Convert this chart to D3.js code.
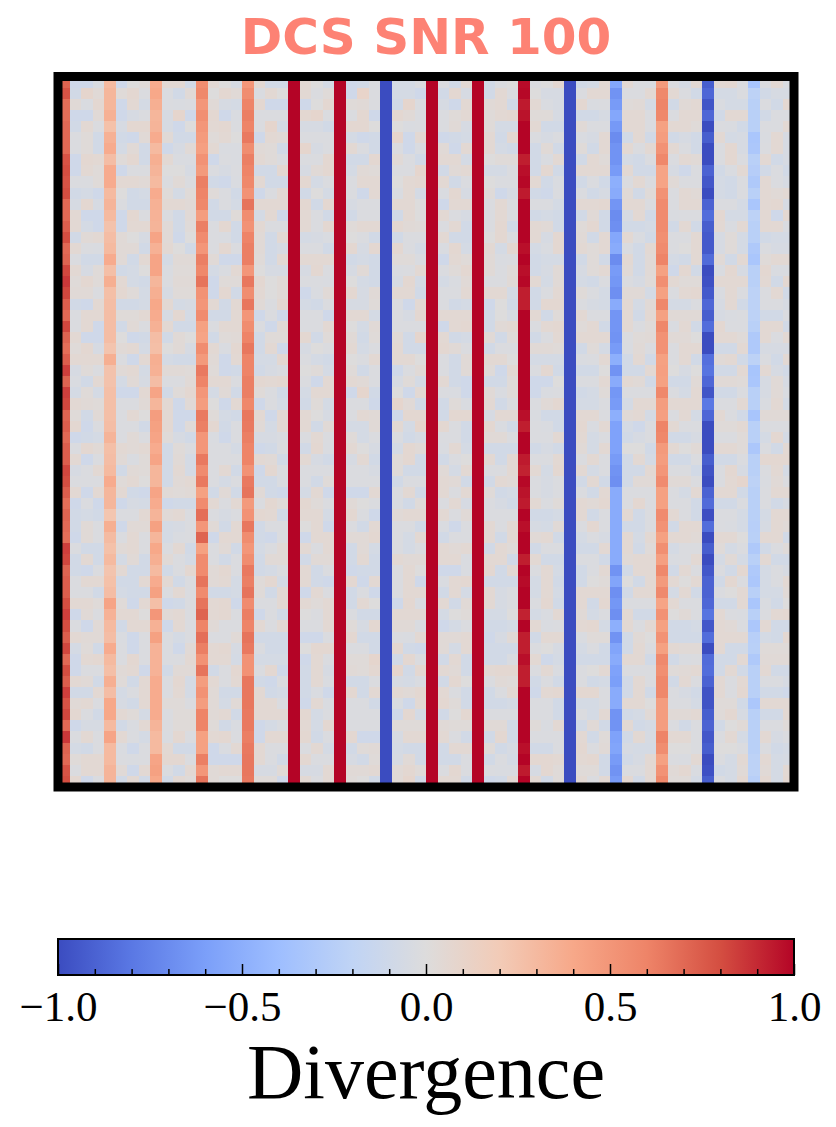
<!DOCTYPE html>
<html>
<head>
<meta charset="utf-8">
<script src="https://cdn.jsdelivr.net/npm/d3@7"></script>
<style>
    html, body { margin: 0; background: white; }
    svg { display: block; }
</style>
</head>
<body>
<div id="chart"></div>
<script>
const title = "DCS SNR 100"
const colorbarLabel = "Divergence"
const majorTicks = [-1, -0.5, 0, 0.5, 1]
const minorTicks = [-0.9, -0.8, -0.7, -0.6, -0.4, -0.3, -0.2, -0.1, 0.1, 0.2, 0.3, 0.4, 0.6, 0.7, 0.8, 0.9]

// coolwarm, sampled at 11 points
const coolwarm = ["#3b4cc0", "#5a78e4", "#7b9ff9", "#9ebeff", "#c0d4f5", "#dddcdc", "#f2cbb7", "#f7a889", "#ee8468", "#d44e41", "#b40426"]

// divergence per cell in hundredths
const divergence = [
[72,-10,-10,-3,30,-10,0,2,38,5,5,-8,55,5,0,-5,50,5,-8,-8,100,5,0,-6,100,-10,-8,-2,-100,-6,-6,-2,100,-2,-8,5,100,-8,-2,0,98,-2,0,6,-100,-8,-6,5,-55,5,-2,-3,48,-2,-6,5,-92,5,6,-2,-35,-2,5,-3],
[78,-8,8,3,32,2,6,-2,40,-2,-8,3,58,0,6,3,55,-3,5,0,100,5,-2,2,100,-10,10,-2,-100,-6,-6,-10,100,-8,6,-5,100,-8,5,-2,99,0,-5,-5,-100,-2,5,5,-66,-2,-2,5,58,5,-2,-8,-88,-6,-6,-2,-22,-8,-5,-5],
[68,3,-3,6,32,-10,5,-6,36,-2,-3,-2,50,3,-5,-6,60,6,-10,-10,100,-10,0,6,100,2,3,-2,-100,-8,8,-2,100,-5,-10,5,100,3,5,-8,94,5,-3,-5,-100,6,-3,-2,-62,2,3,-6,60,-8,3,5,-96,-3,-6,-6,-24,-2,-8,6],
[68,-10,-10,3,35,-10,-5,-2,32,-5,8,-10,54,6,-10,-3,62,-2,-2,-2,100,6,8,-2,100,-2,6,-10,-100,6,3,-2,100,-2,2,5,100,2,5,6,96,2,2,-5,-100,-8,-8,-5,-55,5,5,-2,58,-2,5,5,-88,-8,5,5,-24,-8,-2,-2],
[70,-8,5,-2,26,-5,6,6,33,-5,-10,0,50,5,6,-2,60,-2,8,-6,100,-5,-5,-8,100,6,6,0,-100,0,-3,-2,100,-2,3,-5,100,2,-6,-6,100,5,-8,-8,-100,3,-2,-2,-63,5,5,-2,44,5,5,2,-100,-2,-3,-8,-24,-2,-2,5],
[70,-2,2,-8,35,-8,-10,3,38,3,-8,-8,47,2,5,0,64,-10,5,3,100,-2,-2,-2,100,-6,-10,-8,-100,8,-10,5,100,-10,-8,-6,100,5,-8,6,100,-2,-5,-2,-100,-3,-5,5,-70,-8,5,-8,46,-8,-5,-8,-92,5,-6,-5,-33,-3,5,-5],
[70,-2,2,-8,38,-6,3,-8,30,-10,-5,3,45,5,-3,-3,55,3,2,-8,100,8,-5,-2,100,5,-2,-8,-100,-2,-10,-3,100,3,-10,5,100,5,-6,-8,100,-8,3,-8,-100,2,-8,5,-66,5,-2,5,52,5,-2,-8,-100,-2,6,-5,-32,-2,5,-5],
[78,-10,6,5,28,2,6,-8,36,5,-3,-3,52,-10,-2,-3,62,5,2,-2,100,-2,-2,6,100,-8,-8,6,-100,3,-2,-8,100,5,5,-6,100,0,2,2,93,-8,-3,5,-100,-8,5,2,-66,-6,-8,-2,58,-2,5,3,-100,-2,6,-2,-24,5,-8,-5],
[80,-10,5,2,38,-10,-2,-2,33,0,0,-5,48,-2,-5,-2,60,-8,-8,6,100,-5,3,6,100,-6,3,2,-100,-2,-2,8,100,-8,3,5,100,-6,-6,-2,97,-8,6,-8,-100,5,5,5,-62,5,-8,-8,42,-5,-10,-2,-90,-8,-3,5,-26,-8,-2,-8],
[78,-2,-2,2,38,5,5,3,30,-2,3,-2,62,-8,-10,-3,58,5,-8,-8,100,6,-6,-2,100,-2,5,5,-100,0,5,6,100,5,-8,-2,100,0,-2,-2,99,5,-8,-3,-100,-8,-2,-8,-50,-2,5,-2,42,3,-2,-2,-95,-6,-8,-2,-30,5,-2,-5],
[80,-8,-6,-10,30,0,-8,-6,38,2,-6,2,60,2,-2,-8,52,-10,-2,5,100,-8,0,-6,100,-2,-10,5,-100,-3,5,-6,100,-3,6,-5,100,2,-10,-5,94,-8,-10,-2,-100,-2,-8,-5,-52,3,-8,2,52,-2,5,3,-100,-6,-8,-2,-24,5,3,5],
[70,-5,6,-5,33,-2,-8,-8,35,5,5,3,58,-8,-2,-6,66,5,5,5,100,6,-8,6,100,-5,-2,-2,-100,5,5,0,100,-10,5,5,100,-2,5,-2,100,-2,-2,-6,-100,5,5,6,-65,5,5,-2,56,-2,5,5,-90,-2,-2,-6,-33,5,6,-5],
[70,5,-10,-10,30,-10,6,-2,34,-2,-8,3,46,-8,-8,2,55,-6,5,-10,100,5,-2,-8,100,-8,-2,-2,-100,-8,5,0,100,5,-2,-5,100,-2,5,-2,100,-8,-6,-8,-100,-8,3,-8,-70,-5,5,-8,56,-3,-2,-2,-85,6,-6,-6,-22,5,-10,6],
[74,5,-6,-10,25,-10,5,5,33,3,-8,2,62,-2,6,-8,52,5,-2,-2,100,5,-2,6,100,2,5,5,-100,6,3,2,100,-2,5,-8,100,-2,6,-8,100,5,3,-8,-100,2,6,-8,-68,-8,-8,-6,56,-8,5,-8,-92,5,-3,5,-24,5,5,-3],
[80,-8,3,5,28,3,0,-5,42,3,-10,0,56,-2,-3,-8,60,3,-8,5,100,-6,-5,-3,100,0,-2,-8,-100,-8,-2,-2,100,5,-8,-8,100,0,6,-2,100,5,-5,6,-100,3,-8,5,-55,5,-3,-8,54,-2,-2,5,-94,-5,2,-6,-24,-8,-6,-6],
[70,5,-2,-3,30,3,3,-8,35,5,0,-8,50,-2,6,-2,62,3,-8,-5,100,-2,-2,-8,100,6,-5,6,-100,6,-2,-6,100,-3,6,-6,100,5,-6,6,97,-6,-3,6,-100,5,2,5,-52,-3,-8,5,56,-2,0,5,-94,-5,2,-6,-30,-2,-5,-5],
[72,-2,-8,-8,38,3,-8,5,42,-6,3,3,62,3,-10,-10,62,2,-8,5,100,5,5,5,100,-8,-6,-8,-100,2,2,-3,100,-10,5,2,100,3,-3,-2,100,-8,-6,-6,-100,-8,2,-8,-70,5,-8,3,60,-6,-8,5,-86,3,-8,5,-33,2,5,5],
[82,5,-5,2,27,-8,-6,0,42,-3,2,2,58,-6,-3,5,50,0,-5,-5,100,-5,6,-2,100,-5,3,-8,-100,-3,-2,5,100,-2,2,6,100,3,-2,2,97,-8,-5,3,-100,-5,2,5,-62,3,-8,3,44,-10,6,-8,-100,-3,6,-5,-24,6,-3,-3],
[86,2,6,2,36,5,-6,-8,32,-2,3,3,66,-10,2,2,65,6,0,3,100,-2,-2,-3,100,0,-6,-8,-100,-5,6,-6,100,-6,-3,3,100,-2,-2,3,99,5,-6,3,-100,-6,-8,-2,-64,-2,-5,2,54,5,2,2,-98,5,5,5,-24,5,-8,6],
[82,3,3,-2,27,6,2,-6,36,-5,2,2,52,-10,6,-8,55,5,0,3,100,-10,-3,3,100,6,-5,3,-100,5,5,-8,100,-2,-2,5,100,5,5,-6,93,-8,-2,5,-100,2,-2,-6,-68,3,3,-6,44,-2,5,6,-94,-3,5,-2,-22,-2,5,-8],
[74,-8,-10,5,28,-8,-8,-6,40,5,-6,-5,50,5,-8,5,65,3,-2,6,100,-6,-8,-2,100,-5,-5,2,-100,-2,-10,5,100,-2,-8,-6,100,-10,0,-8,93,-8,6,6,-100,-2,-5,-6,-52,5,-6,3,58,-6,-6,-2,-88,-5,5,-8,-22,-2,-2,-5],
[70,-2,5,5,28,2,2,5,38,-5,6,-6,56,-8,-8,5,50,-10,-2,-10,100,-2,-2,-10,100,5,5,-6,-100,-2,-5,6,100,5,5,5,100,-8,0,-5,100,5,-8,2,-100,5,-2,-2,-65,5,-8,5,44,3,3,3,-92,-5,-3,-2,-22,-8,-8,-2],
[82,-2,5,-10,28,-8,3,-2,35,5,-8,-8,44,-2,5,5,55,-2,-10,3,100,-2,-2,5,100,0,-6,3,-100,-2,-2,-2,100,-10,5,6,100,-8,3,5,100,-2,5,6,-100,2,5,-8,-65,5,-2,2,58,-3,5,-8,-85,6,-2,-2,-24,5,5,-8],
[72,5,-10,-10,28,0,-10,-8,28,-8,3,0,42,-8,2,3,60,-8,2,2,100,6,-8,2,100,3,-8,2,-100,3,-8,8,100,5,-8,-6,100,3,-8,2,100,-8,-2,5,-100,5,5,5,-66,-2,2,3,52,3,3,0,-100,5,5,2,-30,5,-2,5],
[68,2,6,-5,24,3,5,-6,27,0,3,-5,55,5,-3,6,65,-8,5,-10,100,-5,0,-2,100,5,-6,-2,-100,5,-8,-8,100,6,3,-2,100,-8,-2,-2,100,3,3,2,-100,-8,2,-6,-62,-3,3,-2,52,-2,5,5,-100,-8,-8,5,-30,-5,-5,-5],
[74,5,5,5,36,-2,-10,5,36,-6,-8,-8,48,3,-10,5,60,-6,-6,6,100,-2,-6,-8,100,0,-2,5,-100,5,5,0,100,-2,-8,3,100,5,5,0,100,-6,-6,-6,-100,-3,-2,5,-50,-8,5,-8,44,-2,5,-8,-84,3,5,-8,-22,-2,-8,5],
[84,-5,2,-2,25,3,5,-6,35,3,3,2,64,2,-10,-8,60,-8,-5,-3,100,0,2,-6,100,2,-8,-2,-100,-10,-2,3,100,-2,-8,3,100,2,-10,5,100,-2,6,-8,-100,-8,-8,0,-66,-8,-8,5,45,0,-5,0,-82,-8,-8,5,-34,5,-5,-8],
[72,-3,-8,5,25,-6,3,-5,28,-2,-2,3,60,5,5,-2,62,6,5,6,100,-2,-10,5,100,5,3,-2,-100,-5,2,-6,100,5,-8,-10,100,-8,-8,2,100,-10,-10,0,-100,-2,-2,5,-52,5,3,-8,44,-8,-8,3,-88,3,3,2,-33,-5,3,-5],
[84,-6,2,-6,27,-10,-10,5,42,-8,2,6,50,-6,3,-8,62,2,-2,-8,100,-6,5,5,100,-10,8,-8,-100,0,-10,5,100,-2,-3,-10,100,3,-3,2,100,-10,-3,-2,-100,-8,-6,2,-64,-2,-2,-2,58,-2,-6,5,-96,-8,-8,-2,-24,-5,3,-3],
[82,5,3,2,27,-2,-2,3,32,5,-10,3,46,0,-10,5,58,-10,-2,-6,100,-8,2,-6,100,-2,-2,-10,-100,8,3,-8,100,-8,2,-3,100,5,-8,-2,100,-2,3,6,-100,-6,-6,-2,-62,-6,5,5,46,5,5,5,-80,-2,-2,5,-24,-3,5,-6],
[72,2,-8,3,27,-2,5,0,46,5,-10,-10,64,2,-6,-8,65,5,-10,5,100,5,0,-5,100,-2,5,3,-100,-10,6,6,100,-8,6,6,100,-5,5,5,97,-3,-8,-8,-100,5,5,-2,-50,3,5,-6,45,-2,5,-6,-88,5,-2,-8,-34,3,3,3],
[74,6,-10,-2,28,-2,-2,-8,44,5,-10,2,62,6,-8,-2,64,3,-6,5,100,5,-8,3,100,-6,-6,3,-100,5,-6,8,100,6,-2,-8,100,6,-3,-8,93,-2,-3,-8,-100,6,-3,5,-58,-6,-10,-2,60,5,-2,-2,-100,2,2,5,-24,-2,-2,-2],
[70,-10,-8,-6,33,-2,3,-2,42,2,-5,-8,50,-3,-10,-2,62,-5,-5,-3,100,-2,5,-2,100,2,-6,-2,-100,-2,-8,-5,100,-2,-2,-8,100,3,3,-2,100,-2,-2,5,-100,5,-6,-2,-58,-8,-5,-2,58,-8,-8,-5,-100,-2,-2,2,-24,-6,6,-6],
[74,-2,6,3,27,5,3,5,38,-8,2,-2,50,-2,-2,-6,60,-10,-8,-2,100,-8,6,-3,100,5,0,-5,-100,-6,6,3,100,-3,5,-6,100,-8,-8,-8,100,-8,-5,-8,-100,3,-6,5,-58,0,0,-8,48,5,0,3,-100,5,5,2,-32,-2,-8,5],
[74,5,-10,-2,28,3,-3,2,42,-8,3,-6,64,-2,-2,-2,60,5,3,-8,100,5,-5,-8,100,-5,5,-8,-100,2,6,-8,100,-8,-2,0,100,5,-8,5,94,-2,-2,5,-100,-2,5,-2,-62,-8,5,-6,46,-8,-8,-2,-92,-8,-8,-2,-24,6,6,6],
[82,-5,-2,5,30,-8,3,2,32,-8,5,-6,56,-2,5,-8,52,-10,6,-2,100,-2,-2,-2,100,-2,-2,-5,-100,2,-8,-8,100,3,-6,5,100,-2,-2,5,92,5,-6,6,-100,5,-6,-2,-66,-8,-8,5,50,-2,-2,-8,-97,-2,6,-5,-24,-2,5,-6],
[80,-2,-2,-2,38,2,5,0,32,-8,3,5,64,-2,-6,-2,64,-8,-8,-3,100,-2,-8,2,100,-2,-2,-2,-100,-8,-2,-2,100,5,3,-8,100,-8,5,3,99,-2,-5,-2,-100,-8,5,-8,-68,-8,3,3,56,3,3,-2,-100,-2,5,8,-22,-3,3,-2],
[74,5,-10,5,32,5,-8,-10,42,3,2,3,44,-8,3,-8,66,3,-8,-10,100,-6,5,-10,100,-10,-10,5,-100,-2,5,-8,100,5,-2,5,100,2,-8,-6,96,-2,-5,-2,-100,-2,-8,5,-52,-2,-2,-2,44,-2,-6,5,-90,5,5,-8,-24,-2,5,5],
[68,-10,-2,-10,32,-10,-5,-6,38,-10,-8,-8,56,5,-2,5,48,-2,6,2,100,6,2,-2,100,3,0,-2,-100,-3,-8,2,100,-2,5,-5,100,-2,-5,-8,94,5,-2,2,-100,5,3,6,-52,-2,6,-2,44,-2,-2,-8,-86,-8,-8,-2,-24,-2,-8,-5],
[72,-8,-6,-8,23,-2,-2,5,33,3,5,-2,68,-2,-5,-2,52,6,5,-8,100,5,5,-6,100,6,-2,-10,-100,3,5,5,100,5,-2,3,100,-2,-2,-2,100,-8,-8,-6,-100,5,-8,-2,-52,5,-8,-2,56,5,-2,-8,-99,-2,-2,-6,-24,-6,5,5],
[70,-8,3,-2,36,-10,3,3,44,-6,-5,-2,50,3,-8,5,65,-8,-2,-2,100,0,5,-10,100,-2,-8,5,-100,-2,-2,-8,100,-3,-10,-2,100,5,-2,5,97,-5,-6,3,-100,-2,6,-2,-52,-8,-8,-2,52,-8,5,5,-85,-2,-3,-6,-25,-5,5,3],
[68,-10,3,-2,29,-2,5,-2,32,-6,-3,-2,72,-10,5,5,55,-8,-10,-2,100,-10,5,5,100,3,3,6,-100,-2,-6,5,100,-8,-2,-2,100,5,-8,5,100,3,5,-8,-100,-6,-2,-5,-52,5,-6,5,44,5,5,3,-100,5,5,0,-24,5,5,-8],
[84,-2,-8,-8,26,3,5,-2,40,-2,5,-8,44,-2,3,-8,50,-6,-2,3,100,5,-2,5,100,-8,3,-6,-100,-2,-6,-2,100,5,3,5,100,-8,5,2,100,-8,-2,-2,-100,-8,-8,5,-52,5,-8,2,54,-6,-2,-2,-92,2,-6,-2,-30,-8,-2,2],
[82,-8,5,-8,30,-6,3,-8,36,3,-2,-6,56,-2,-8,-2,55,-8,3,3,100,-8,3,3,100,-8,5,-8,-100,5,3,3,100,5,5,-3,100,5,5,-8,93,5,-8,-8,-100,-2,-2,-8,-52,3,5,5,45,-3,-2,5,-100,-6,3,-6,-24,5,-8,-8],
[72,-8,-10,-2,24,5,-8,-8,30,-8,-2,6,56,3,6,-2,64,-8,-6,-2,100,5,-8,-2,100,-10,-8,-8,-100,-2,5,0,100,-10,-10,-3,100,6,-8,5,100,-2,5,-6,-100,-8,-2,5,-66,-8,5,5,58,-8,5,-2,-95,-2,-8,6,-30,-6,-2,-5],
[74,-2,5,5,26,-8,-8,5,38,5,-8,-2,66,3,5,-6,62,2,6,-6,100,5,-8,-10,100,6,-10,5,-100,-2,5,-10,100,-3,5,6,100,-8,-8,-8,98,-6,5,-8,-100,-8,0,2,-56,0,-8,5,48,5,0,5,-90,-8,6,-2,-32,-6,-2,5],
[74,-2,-2,-8,28,-6,-8,-8,44,-2,5,-2,56,-8,-8,-6,66,2,-8,5,100,-10,5,-2,100,-8,-2,-10,-100,-2,5,5,100,-8,5,-6,100,5,-5,-2,100,-6,5,-6,-100,5,5,5,-68,-8,5,5,57,-6,5,-8,-90,-2,0,5,-24,-6,-6,3],
[80,5,5,2,42,2,-10,5,27,-10,-8,-2,66,5,6,-10,56,-2,-2,5,100,5,2,5,100,-8,5,0,-100,-10,6,-3,100,5,-8,3,100,5,-5,-2,100,-2,6,-8,-100,5,-8,6,-64,-2,-2,-2,42,5,-2,-2,-88,-8,-8,5,-33,-3,-8,0],
[84,-10,3,-2,34,5,5,0,50,3,5,-2,72,5,6,-2,62,-10,-2,-8,100,0,-2,5,100,-2,-8,-8,-100,5,5,5,100,-6,0,2,100,-6,-6,0,92,-6,-3,5,-100,3,-6,-2,-68,5,-8,-8,52,0,3,-2,-82,5,-2,-3,-24,-2,5,6],
[80,-2,-10,3,30,-8,5,5,35,-10,5,-2,60,3,-2,-2,60,5,-2,5,100,-2,-2,5,100,2,-5,6,-100,3,3,-3,100,-10,-6,-2,100,-8,-8,-6,100,5,-3,-2,-100,5,6,-6,-50,5,-2,5,44,-8,-8,-6,-95,5,3,-2,-32,5,-8,-8],
[74,5,3,3,28,-3,-10,-2,44,-2,-6,-2,68,-2,-2,3,66,-8,-8,-8,100,-10,-10,-2,100,6,-8,-8,-100,-2,-3,5,100,3,3,5,100,-10,-5,3,93,-8,5,5,-100,-3,2,2,-66,-8,3,0,52,-8,-8,-8,-85,5,5,5,-25,-6,-8,6],
[82,-6,2,-8,38,-2,-10,-2,34,-2,-10,3,62,5,6,-5,64,-2,-8,-8,100,0,6,6,100,-2,-2,-8,-100,6,-8,-10,100,3,-6,5,100,-8,-8,-8,93,-2,0,-5,-100,-6,-2,-8,-56,-8,5,-2,44,5,3,3,-100,5,-8,-8,-24,2,2,2],
[70,-10,5,6,30,-2,6,-2,34,-2,-2,5,52,5,5,-6,52,-6,-6,-6,100,-10,5,-2,100,2,2,8,-100,-8,6,-2,100,-8,5,-8,100,-8,-8,-3,97,5,-10,-6,-100,-8,-8,-8,-52,5,5,-8,57,-8,-3,-2,-86,-8,-8,5,-30,3,3,3],
[80,-10,-2,-2,27,3,5,-10,34,-8,3,3,66,-8,-2,6,52,-2,6,-10,100,-8,5,-5,100,3,2,6,-100,8,-8,6,100,5,3,-8,100,5,6,6,93,-2,5,-3,-100,-2,0,5,-58,-2,-2,-2,54,2,3,5,-85,-8,5,-8,-24,5,-8,-8],
[74,5,3,-8,36,2,-8,5,38,-2,6,-6,46,5,-2,5,65,-8,-10,-2,100,-8,5,-3,100,-8,-8,-2,-100,-5,-6,-3,100,-8,6,0,100,-2,3,2,93,-8,-2,-8,-100,-2,-8,-6,-60,-8,5,-2,58,-8,5,-2,-90,5,-2,5,-24,-2,-2,-5],
[84,-8,-8,5,28,-6,-2,5,38,-2,5,-6,52,3,-8,-8,65,5,-8,-6,100,-8,-3,-10,100,6,-8,5,-100,5,3,6,100,5,-2,-8,100,-8,-2,5,100,-10,5,6,-100,6,6,-2,-52,-8,5,-8,58,-2,-5,-8,-97,5,-2,6,-24,-8,-8,-10],
[78,3,5,-2,40,-5,-8,5,38,2,2,-2,46,3,-6,3,65,5,5,-2,100,-10,5,-3,100,-2,-2,-8,-100,-3,-10,5,100,6,2,-8,100,-8,-8,-6,100,-2,-2,-8,-100,-6,-6,-2,-52,5,5,0,46,-2,-2,-6,-97,2,2,-8,-32,5,5,5],
[82,6,-2,-8,40,5,2,-6,38,-2,2,2,60,3,5,-8,64,5,5,5,100,6,-6,-2,100,-2,-2,-2,-100,-10,6,-6,100,-8,0,6,100,-2,-2,-2,100,-2,-2,-8,-100,-2,-6,5,-66,-8,-6,3,46,3,3,5,-92,2,6,-5,-24,-8,-8,5],
[70,-10,-5,-5,30,-8,-3,5,33,-2,2,2,60,2,-8,-3,64,-10,-6,-3,100,5,-6,6,100,-2,-2,-2,-100,2,2,2,100,3,2,2,100,3,3,-8,100,2,-3,5,-100,-8,3,-8,-66,5,-8,-6,46,-2,-8,-2,-90,-8,0,3,-24,-2,-2,2],
[86,-2,5,-2,42,5,-2,-6,30,-3,6,-2,44,5,6,-2,62,-10,5,5,100,6,-8,-2,100,6,-10,-10,-100,-5,5,5,100,5,-2,-8,100,-8,6,-8,100,-2,-2,-2,-100,5,-8,2,-58,-8,5,-5,60,5,5,-2,-95,-2,5,-6,-24,5,-5,-2],
[72,-6,-8,-2,30,-3,-10,-2,30,5,-8,-8,44,-10,-3,5,64,5,-2,-2,100,-2,5,-6,100,-8,2,3,-100,-6,-8,-8,100,-8,5,5,100,2,-8,-5,97,-8,-8,-2,-100,6,-2,3,-56,-5,-6,-6,55,0,0,-2,-92,0,0,-2,-24,-2,-8,-6],
[70,2,5,5,30,-2,-3,-2,42,6,6,-2,62,-10,-10,-10,65,5,-2,-8,100,6,-2,-2,100,-5,-8,2,-100,-5,3,-8,100,-8,-8,-2,100,-8,-2,-6,100,6,6,5,-100,5,6,-8,-62,-8,-5,5,44,-2,-3,5,-100,-2,-6,5,-22,5,-6,-5],
[78,-2,5,5,33,3,-10,5,44,-2,-8,5,50,3,5,5,65,-5,-5,3,100,-5,-5,5,100,3,3,5,-100,3,6,2,100,-2,6,-2,100,-2,-3,-3,94,-5,6,2,-100,2,2,-8,-66,-2,-2,5,52,3,6,-3,-98,-8,-6,3,-22,3,-6,5],
[80,6,-10,-2,33,-8,5,-8,40,-8,5,2,66,3,0,0,64,2,2,-10,100,5,-2,5,100,2,0,-8,-100,3,8,-8,100,5,5,-8,100,-10,-8,5,100,5,-8,2,-100,5,-2,5,-62,6,-8,5,58,2,2,-6,-92,-2,-6,6,-25,6,-6,6]
]

const dimensions = {
    width: 836,
    height: 1127,
    heatmap: { left: 58, right: 794, top: 76.5, bottom: 787 },
    colorbar: { top: 939, bottom: 975 },
}

const wrapper = d3.select("#chart")
    .append("svg")
    .attr("width", dimensions.width)
    .attr("height", dimensions.height)

// Colour scale
const colorDomain = d3.range(coolwarm.length).map(i => -1 + 2 * i / (coolwarm.length - 1))
const color = d3.scaleLinear().domain(colorDomain).range(coolwarm).interpolate(d3.interpolateRgb)

// Heatmap
const x = d3.scaleBand()
    .domain(d3.range(divergence[0].length))
    .range([dimensions.heatmap.left, dimensions.heatmap.right])
const y = d3.scaleBand()
    .domain(d3.range(divergence.length))
    .range([dimensions.heatmap.top, dimensions.heatmap.bottom])

wrapper.append("g")
    .classed("cells", true)
    .attr("shape-rendering", "crispEdges")
    .selectAll("g")
    .data(divergence)
    .join("g")
    .attr("transform", (_, i) => `translate(0,${y(i)})`)
    .selectAll("rect")
    .data(row => row)
    .join("rect")
    .attr("x", (_, i) => x(i))
    .attr("width", x.bandwidth() + 0.5)
    .attr("height", y.bandwidth() + 0.5)
    .attr("fill", d => color(d / 100))

// Frame
wrapper.append("rect")
    .attr("x", dimensions.heatmap.left)
    .attr("y", dimensions.heatmap.top)
    .attr("width", dimensions.heatmap.right - dimensions.heatmap.left)
    .attr("height", dimensions.heatmap.bottom - dimensions.heatmap.top)
    .attr("fill", "none")
    .attr("stroke", "black")
    .attr("stroke-width", 9)

// Title
wrapper.append("text")
    .attr("x", 426)
    .attr("y", 53.5)
    .attr("text-anchor", "middle")
    .attr("font-family", "DejaVu Sans")
    .attr("font-weight", "bold")
    .attr("font-size", 50)
    .attr("fill", "#fd8274")
    .text(title)

// Colorbar
const barScale = d3.scaleLinear()
    .domain([-1, 1])
    .range([dimensions.heatmap.left, dimensions.heatmap.right])

const gradient = wrapper.append("defs")
    .append("linearGradient")
    .attr("id", "coolwarm")
gradient.selectAll("stop")
    .data(coolwarm)
    .join("stop")
    .attr("offset", (_, i) => i / (coolwarm.length - 1))
    .attr("stop-color", d => d)

wrapper.append("rect")
    .attr("x", barScale(-1))
    .attr("y", dimensions.colorbar.top)
    .attr("width", barScale(1) - barScale(-1))
    .attr("height", dimensions.colorbar.bottom - dimensions.colorbar.top)
    .attr("fill", "url(#coolwarm)")

const minorAxis = wrapper.append("g")
    .attr("transform", `translate(0,${dimensions.colorbar.bottom})`)
    .call(d3.axisBottom(barScale).tickValues(minorTicks).tickSize(-6).tickFormat(""))
minorAxis.select(".domain").remove()
minorAxis.selectAll("line").attr("stroke", "black").attr("stroke-width", 1.5)

const majorAxis = wrapper.append("g")
    .attr("transform", `translate(0,${dimensions.colorbar.bottom})`)
    .call(d3.axisBottom(barScale)
        .tickValues(majorTicks)
        .tickSize(-11)
        .tickPadding(15)
        .tickFormat(d => d3.format(".1f")(d).replace("-", "\u2212")))
majorAxis.select(".domain").remove()
majorAxis.selectAll("line").attr("stroke", "black").attr("stroke-width", 1.5)
majorAxis.selectAll("text")
    .attr("font-family", "Liberation Serif")
    .attr("font-size", 43)
    .attr("fill", "black")

wrapper.append("rect")
    .attr("x", barScale(-1))
    .attr("y", dimensions.colorbar.top)
    .attr("width", barScale(1) - barScale(-1))
    .attr("height", dimensions.colorbar.bottom - dimensions.colorbar.top)
    .attr("fill", "none")
    .attr("stroke", "black")
    .attr("stroke-width", 2)

wrapper.append("text")
    .attr("x", 426)
    .attr("y", 1098)
    .attr("text-anchor", "middle")
    .attr("font-family", "Liberation Serif")
    .attr("font-size", 78)
    .attr("fill", "black")
    .text(colorbarLabel)
</script>
</body>
</html>
